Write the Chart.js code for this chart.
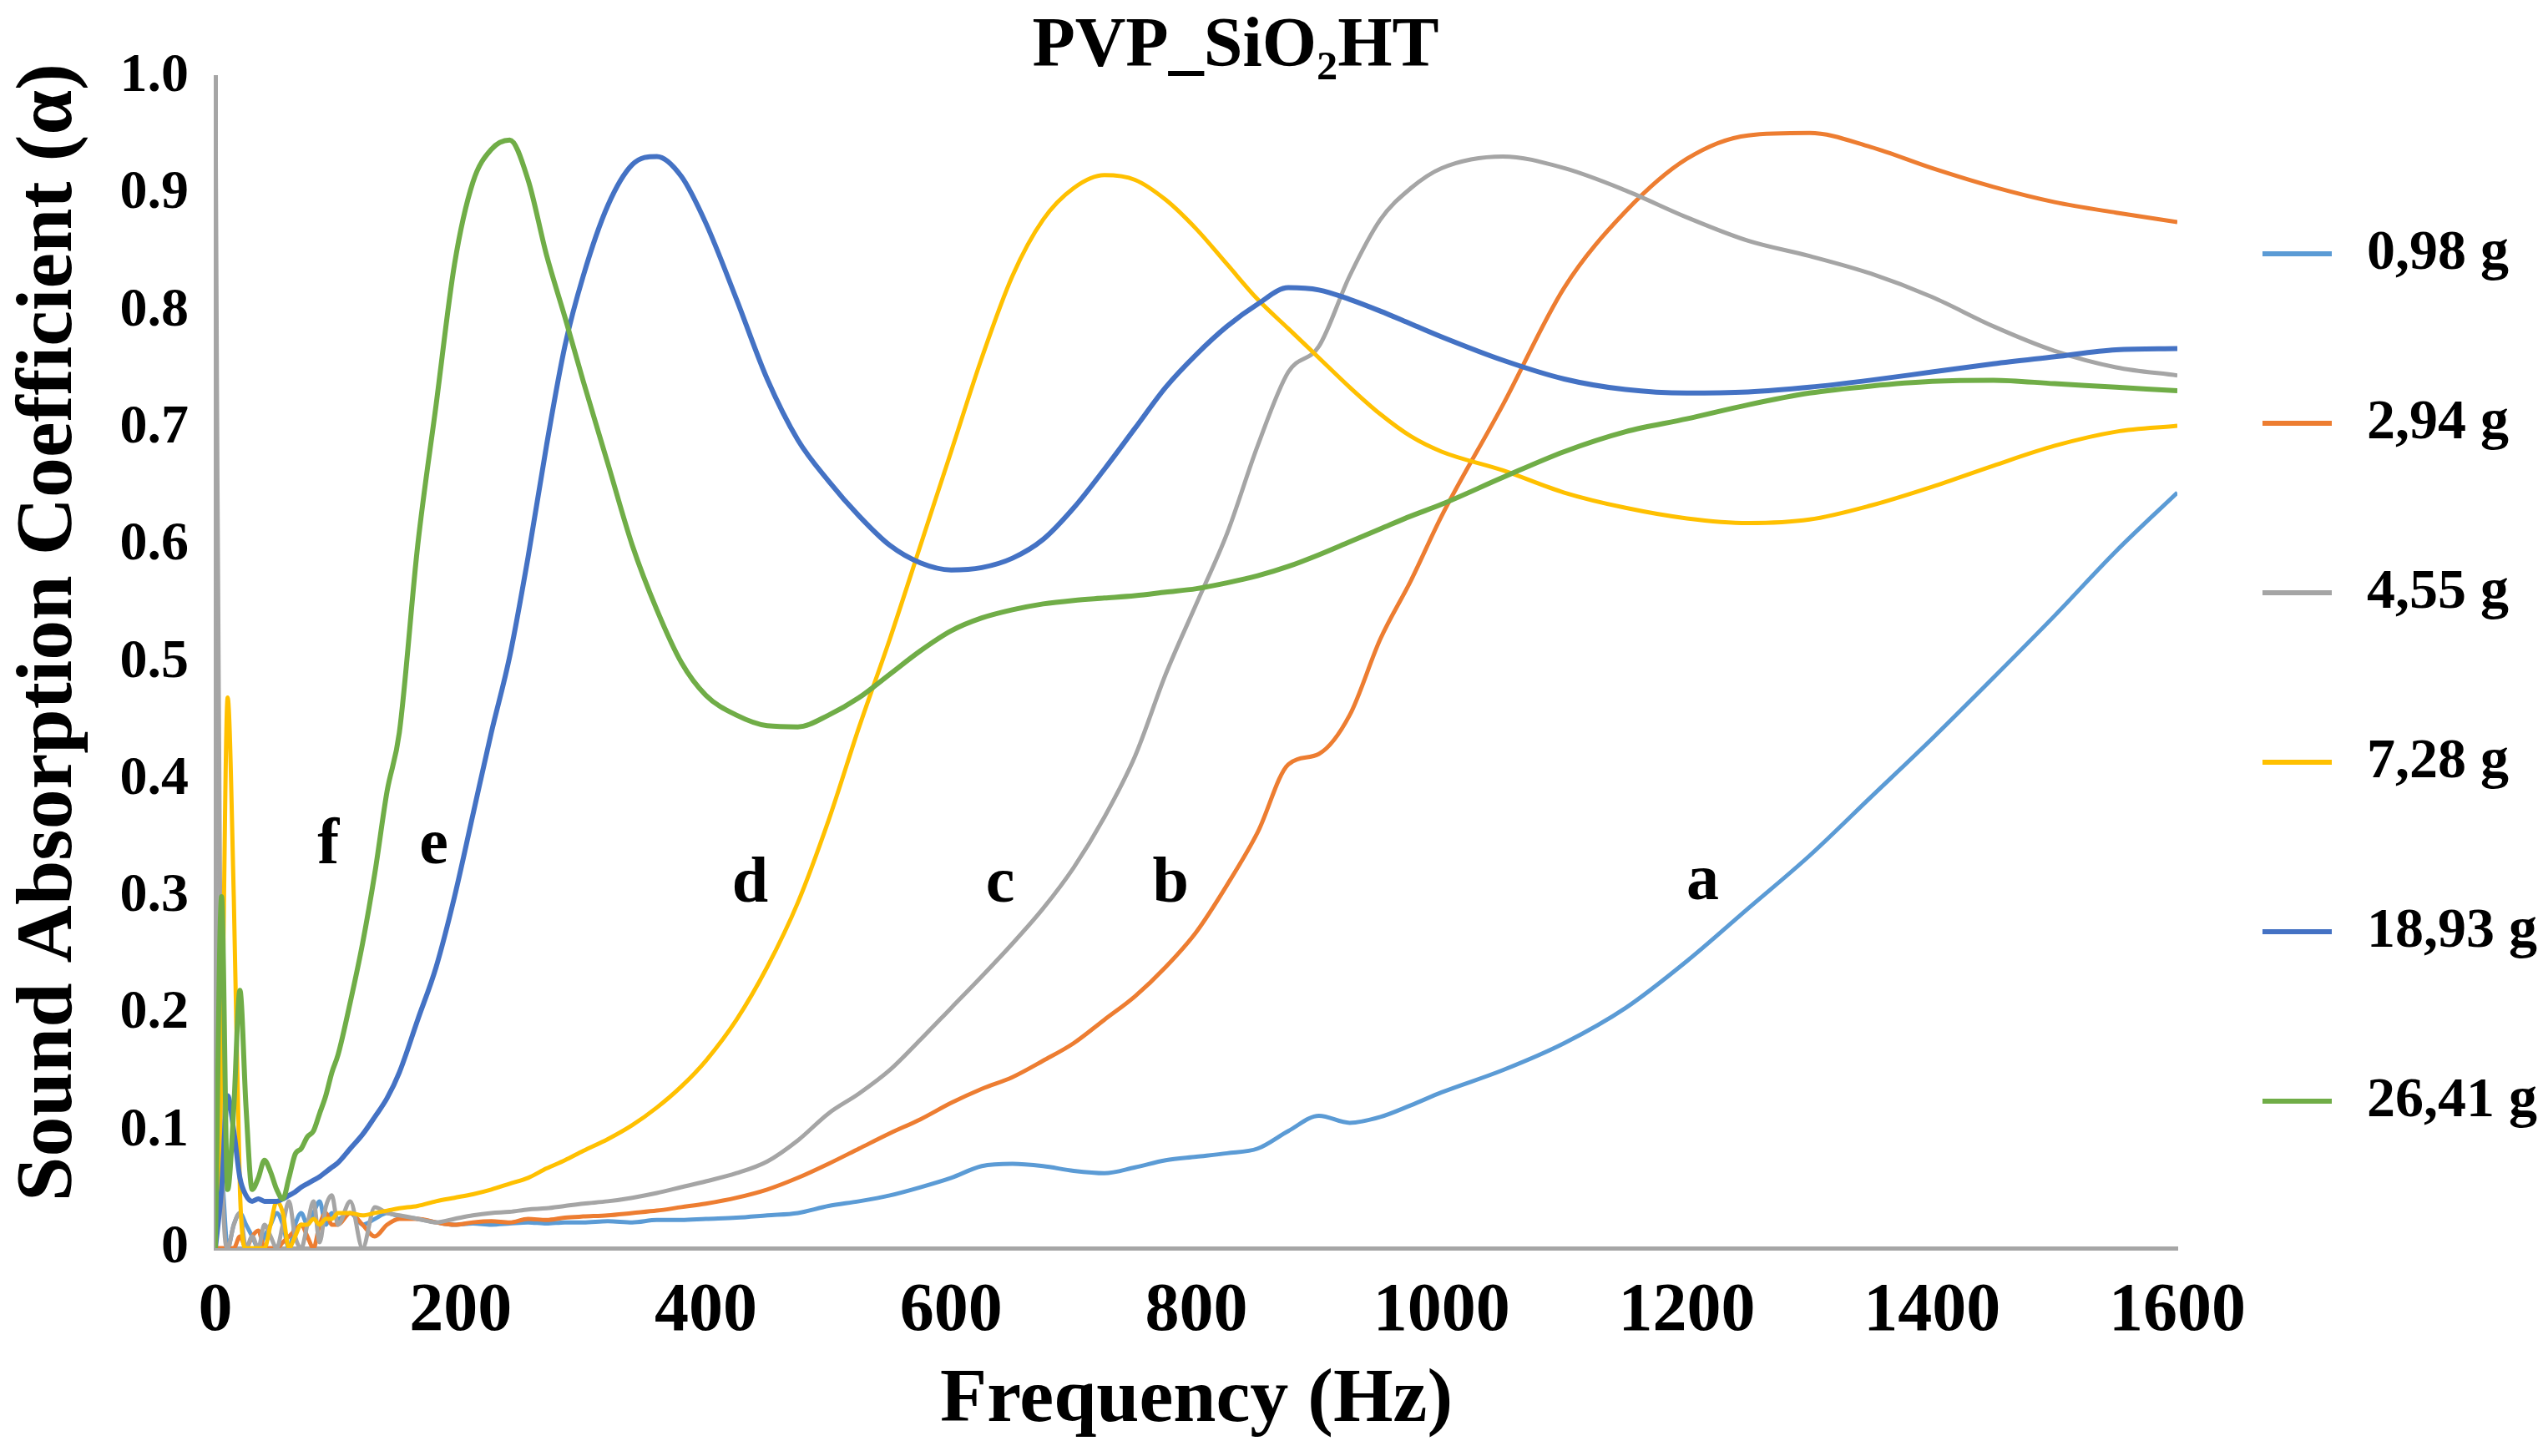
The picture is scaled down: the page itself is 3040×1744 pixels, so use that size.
<!DOCTYPE html>
<html>
<head>
<meta charset="utf-8">
<title>PVP_SiO2HT</title>
<script src="https://cdn.jsdelivr.net/npm/chart.js@4.4.1/dist/chart.umd.min.js"></script>
<style>
    html, body { margin: 0; padding: 0; background: #fff; }
    #wrap { width: 3040px; height: 1744px; }
</style>
</head>
<body>
<div id="wrap"><canvas id="soundChart" width="3040" height="1744"></canvas></div>
<script>
// Tần số (Hz) - dùng chung cho mọi đường
const frequencies = [
    0, 5, 10, 15, 20, 25, 30, 35, 40, 45,
    50, 55, 60, 65, 70, 75, 80, 85, 90, 95,
    100, 110, 120, 130, 140, 150, 165, 180, 195, 210,
    225, 240, 255, 270, 285, 300, 320, 340, 360, 380,
    400, 425, 450, 475, 500, 525, 550, 575, 600, 625,
    650, 675, 700, 725, 750, 775, 800, 825, 850, 875,
    900, 925, 950, 975, 1000, 1050, 1100, 1150, 1200, 1250,
    1300, 1350, 1400, 1450, 1500, 1550, 1600
];

// Hệ số hấp thụ âm cho từng khối lượng mẫu
const alpha098 = [
    0.00, 0.06, 0.00, 0.02, 0.03, 0.02, 0.01, 0.00, 0.01, 0.02,
    0.03, 0.02, 0.00, 0.02, 0.03, 0.02, 0.03, 0.04, 0.02, 0.03,
    0.025, 0.03, 0.02, 0.025, 0.03, 0.027, 0.025, 0.022, 0.02, 0.021,
    0.02, 0.021, 0.022, 0.021, 0.022, 0.022, 0.023, 0.022, 0.024, 0.024,
    0.025, 0.026, 0.028, 0.03, 0.036, 0.04, 0.045, 0.052, 0.06, 0.07,
    0.072, 0.07, 0.066, 0.064, 0.069, 0.075, 0.078, 0.081, 0.085, 0.10,
    0.113, 0.107, 0.112, 0.122, 0.133, 0.152, 0.175, 0.205, 0.245, 0.29,
    0.335, 0.385, 0.435, 0.487, 0.54, 0.595, 0.645
];
const alpha294 = [
    0.00, 0.00, 0.00, 0.00, 0.01, 0.00, 0.01, 0.015, 0.00, 0.00,
    0.00, 0.005, 0.01, 0.015, 0.02, 0.01, 0.00, 0.02, 0.03, 0.02,
    0.02, 0.03, 0.02, 0.01, 0.02, 0.025, 0.025, 0.022, 0.02, 0.022,
    0.023, 0.022, 0.025, 0.024, 0.026, 0.027, 0.028, 0.03, 0.032, 0.035,
    0.038, 0.043, 0.05, 0.06, 0.072, 0.085, 0.098, 0.11, 0.124, 0.136,
    0.146, 0.16, 0.175, 0.195, 0.215, 0.24, 0.27, 0.31, 0.355, 0.413,
    0.422, 0.455, 0.52, 0.57, 0.625, 0.72, 0.82, 0.885, 0.93, 0.95,
    0.952, 0.94, 0.922, 0.906, 0.893, 0.884, 0.876
];
const alpha455 = [
    1.00, 0.10, 0.00, 0.02, 0.03, 0.00, 0.01, 0.00, 0.02, 0.01,
    0.00, 0.02, 0.04, 0.01, 0.00, 0.02, 0.04, 0.005, 0.035, 0.045,
    0.02, 0.04, 0.00, 0.035, 0.03, 0.028, 0.025, 0.022, 0.025, 0.028,
    0.03, 0.031, 0.033, 0.034, 0.036, 0.038, 0.04, 0.043, 0.047, 0.052,
    0.057, 0.064, 0.074, 0.092, 0.115, 0.132, 0.152, 0.178, 0.205, 0.232,
    0.26, 0.29, 0.325, 0.368, 0.42, 0.49, 0.55, 0.61, 0.685, 0.748,
    0.77, 0.83, 0.878, 0.905, 0.922, 0.932, 0.922, 0.903, 0.88, 0.86,
    0.847, 0.832, 0.812, 0.787, 0.766, 0.752, 0.745
];
const alpha728 = [
    0.00, 0.15, 0.47, 0.30, 0.05, 0.00, 0.00, 0.00, 0.00, 0.02,
    0.04, 0.03, 0.00, 0.01, 0.02, 0.02, 0.025, 0.02, 0.025, 0.025,
    0.03, 0.03, 0.028, 0.03, 0.032, 0.034, 0.036, 0.04, 0.043, 0.046,
    0.05, 0.055, 0.06, 0.068, 0.075, 0.083, 0.093, 0.105, 0.12, 0.138,
    0.16, 0.195, 0.24, 0.295, 0.365, 0.445, 0.52, 0.60, 0.68, 0.76,
    0.83, 0.878, 0.905, 0.916, 0.912, 0.895, 0.87, 0.84, 0.81, 0.785,
    0.76, 0.735, 0.712, 0.693, 0.68, 0.664, 0.645, 0.632, 0.623, 0.619,
    0.622, 0.634, 0.65, 0.668, 0.685, 0.697, 0.702
];
const alpha1893 = [
    0.00, 0.05, 0.13, 0.10, 0.06, 0.045, 0.04, 0.042, 0.04, 0.04,
    0.04, 0.042, 0.045, 0.048, 0.052, 0.055, 0.058, 0.061, 0.065, 0.069,
    0.073, 0.085, 0.097, 0.112, 0.128, 0.15, 0.195, 0.24, 0.30, 0.37,
    0.44, 0.505, 0.59, 0.685, 0.77, 0.83, 0.89, 0.925, 0.932, 0.915,
    0.875, 0.81, 0.742, 0.69, 0.655, 0.625, 0.60, 0.585, 0.579, 0.581,
    0.589, 0.605, 0.632, 0.665, 0.70, 0.735, 0.763, 0.787, 0.806, 0.82,
    0.818, 0.81, 0.80, 0.789, 0.778, 0.758, 0.742, 0.733, 0.73, 0.731,
    0.735, 0.741, 0.748, 0.755, 0.761, 0.767, 0.768
];
const alpha2641 = [
    0.00, 0.30, 0.05, 0.12, 0.22, 0.12, 0.05, 0.06, 0.075, 0.065,
    0.05, 0.042, 0.06, 0.08, 0.085, 0.095, 0.10, 0.115, 0.13, 0.15,
    0.165, 0.21, 0.26, 0.32, 0.39, 0.44, 0.60, 0.72, 0.84, 0.91,
    0.938, 0.946, 0.912, 0.848, 0.795, 0.74, 0.67, 0.60, 0.545, 0.50,
    0.472, 0.455, 0.446, 0.445, 0.455, 0.47, 0.49, 0.51, 0.527, 0.538,
    0.545, 0.55, 0.553, 0.555, 0.557, 0.56, 0.563, 0.568, 0.574, 0.582,
    0.592, 0.603, 0.614, 0.625, 0.635, 0.658, 0.68, 0.697, 0.708, 0.72,
    0.73, 0.736, 0.74, 0.741, 0.738, 0.735, 0.732
];

const seriesLabels = ['0,98 g', '2,94 g', '4,55 g', '7,28 g', '18,93 g', '26,41 g'];
const seriesValues = [alpha098, alpha294, alpha455, alpha728, alpha1893, alpha2641];
const yTickLabels = ['0', '0.1', '0.2', '0.3', '0.4', '0.5', '0.6', '0.7', '0.8', '0.9', '1.0'];

// Nhãn chữ cái a-f đặt cạnh các đường (toạ độ theo dữ liệu)
const curveLetters = ['a', 'b', 'c', 'd', 'e', 'f'];
const letterFreq = [1213, 779, 640, 436, 178, 92];
const letterAlpha = [0.312, 0.31, 0.31, 0.31, 0.343, 0.343];

const chartTitle = 'PVP_SiO\u2082HT';

// Màu kiểu Excel
const seriesColors = ['#5B9BD5', '#ED7D31', '#A5A5A5', '#FFC000', '#4472C4', '#70AD47'];
const serif = "'Liberation Serif', 'Times New Roman', serif";

function toPoints(values) {
    return values.map((v, i) => ({ x: frequencies[i], y: v }));
}

// Tiêu đề, chú giải và nhãn chữ cái vẽ thêm trên canvas
const textPlugin = {
    id: 'textPlugin',
    afterDatasetsDraw(chart) {
        const { ctx, chartArea, scales } = chart;
        ctx.save();
        ctx.fillStyle = '#000';
        ctx.textBaseline = 'middle';

        ctx.textAlign = 'center';
        ctx.font = 'bold 84px ' + serif;
        ctx.fillText(chartTitle, chartArea.left + chartArea.width * 0.52, chartArea.top * 0.62);

        ctx.font = 'bold 78px ' + serif;
        curveLetters.forEach((letter, i) => {
            ctx.fillText(letter, scales.x.getPixelForValue(letterFreq[i]), scales.y.getPixelForValue(letterAlpha[i]));
        });

        ctx.textAlign = 'left';
        ctx.font = 'bold 68px ' + serif;
        chart.data.datasets.forEach((ds, i) => {
            const y = chartArea.top + 212 + i * 203;
            const x0 = chartArea.right + 102;
            ctx.strokeStyle = ds.borderColor;
            ctx.lineWidth = 6;
            ctx.beginPath();
            ctx.moveTo(x0, y);
            ctx.lineTo(x0 + 83, y);
            ctx.stroke();
            ctx.fillText(ds.label, x0 + 125, y);
        });
        ctx.restore();
    }
};

function drawSoundChart() {
    const ctx = document.getElementById('soundChart').getContext('2d');

    new Chart(ctx, {
        type: 'line',
        data: {
            datasets: seriesLabels.map((label, i) => ({
                label: label,
                data: toPoints(seriesValues[i]),
                borderColor: seriesColors[i],
                backgroundColor: seriesColors[i],
                borderWidth: i >= 4 ? 6 : 5,
                pointRadius: 0,
                cubicInterpolationMode: 'monotone',
                order: seriesLabels.length - i
            }))
        },
        options: {
            responsive: false,
            devicePixelRatio: 1,
            animation: false,
            layout: {
                padding: { top: 92, right: 432, bottom: 0, left: 0 }
            },
            plugins: {
                legend: { display: false },
                title: { display: false },
                tooltip: { enabled: false }
            },
            scales: {
                x: {
                    type: 'linear',
                    min: 0,
                    max: 1600,
                    ticks: {
                        stepSize: 200,
                        autoSkip: false,
                        maxRotation: 0,
                        padding: 28,
                        color: '#000',
                        font: { family: serif, size: 82, weight: 'bold' },
                        callback: function (value) {
                            return String(value);
                        }
                    },
                    grid: { display: false, drawTicks: false },
                    border: { display: true, color: '#A6A6A6', width: 5 },
                    title: {
                        display: true,
                        text: 'Frequency (Hz)',
                        color: '#000',
                        font: { family: serif, size: 92, weight: 'bold', lineHeight: 1 },
                        padding: { top: 0, bottom: 20 }
                    },
                    afterFit: function (scale) {
                        scale.height = 249;
                    }
                },
                y: {
                    min: 0,
                    max: 1,
                    ticks: {
                        stepSize: 0.1,
                        autoSkip: false,
                        padding: 32,
                        color: '#000',
                        font: { family: serif, size: 66, weight: 'bold' },
                        callback: function (value, index) {
                            return yTickLabels[index];
                        }
                    },
                    grid: { display: false, drawTicks: false },
                    border: { display: true, color: '#A6A6A6', width: 5 },
                    title: {
                        display: true,
                        text: '   Sound Absorption Coefficient (\u03B1)',
                        color: '#000',
                        font: { family: serif, size: 96, weight: 'bold', lineHeight: 1 },
                        padding: { top: 12, bottom: 0 }
                    },
                    afterFit: function (scale) {
                        scale.width = 258;
                    }
                }
            }
        },
        plugins: [textPlugin]
    });
}

document.addEventListener('DOMContentLoaded', drawSoundChart);
</script>
</body>
</html>
